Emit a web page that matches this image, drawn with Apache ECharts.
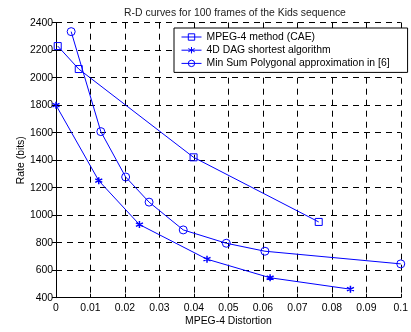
<!DOCTYPE html>
<html><head><meta charset="utf-8">
<script src="https://cdn.jsdelivr.net/npm/echarts@6/dist/echarts.min.js"></script>
<style>html,body{margin:0;padding:0;background:#fff}#c{width:411px;height:332px}</style>
</head><body><div id="c"></div>
<script>
const titleText = 'R-D curves for 100 frames of the Kids sequence';
const xName = 'MPEG-4 Distortion';
const yName = 'Rate (bits)';
const seriesNames = ['MPEG-4 method (CAE)', '4D DAG shortest algorithm', 'Min Sum Polygonal approximation in [6]'];
const mpeg4X = [0.0005, 0.0066, 0.0399, 0.0762];
const mpeg4Y = [2230, 2063, 1421, 951];
const dagX = [0.0000, 0.0124, 0.0242, 0.0438, 0.0621, 0.0854];
const dagY = [1800, 1251, 932, 680, 545, 462];
const minSumX = [0.0044, 0.0130, 0.0202, 0.0270, 0.0369, 0.0494, 0.0606, 0.1000];
const minSumY = [2335, 1608, 1278, 1095, 893, 796, 738, 646];

const zip = (xs, ys) => xs.map((x, i) => [x, ys[i]]);
const blue = '#0000ff';
const font = 'Liberation Sans, Arial, sans-serif';
const fs = 10.4;
const star = 'path://M0,-5L0,5M-4.33,-2.5L4.33,2.5M-4.33,2.5L4.33,-2.5M-1,0L1,0';
const dash = [6, 5];

const chart = echarts.init(document.getElementById('c'), null, {renderer: 'canvas'});
const lineBase = {
  type: 'line', showAllSymbol: true, animation: false,
  lineStyle: {color: blue, width: 1},
  itemStyle: {color: 'rgba(0,0,0,0)', borderColor: blue, borderWidth: 1},
  emphasis: {disabled: true}
};
chart.setOption({
  animation: false,
  title: {text: titleText, left: 230, top: 3, textAlign: 'center',
    textStyle: {fontFamily: font, fontSize: fs, fontWeight: 'normal', color: '#222'}},
  grid: {left: 56, right: 4.5, top: 22.7, bottom: 34.3, show: false},
  legend: {
    orient: 'vertical', left: 174, top: 28,
    backgroundColor: '#fff', borderColor: '#000', borderWidth: 1, borderRadius: 0,
    padding: [4, 18, 4, 7], itemGap: 3.2, itemWidth: 20, itemHeight: 8,
    lineStyle: {width: 1},
    itemStyle: {borderWidth: 1},
    textStyle: {fontFamily: font, fontSize: fs, color: '#000', padding: [0, 0, 0, 0]},
    data: seriesNames
  },
  xAxis: [{
    type: 'value', min: 0, max: 0.1, interval: 0.01,
    name: xName, nameLocation: 'middle', nameGap: 18, nameMoveOverlap: false,
    nameTextStyle: {fontFamily: font, fontSize: fs, color: '#000'},
    axisLine: {show: true, lineStyle: {color: '#000', width: 1}},
    axisTick: {show: true, inside: true, length: 4, lineStyle: {color: '#000'}},
    axisLabel: {fontFamily: font, fontSize: fs, color: '#000', margin: 5,
      formatter: v => String(+v.toFixed(2))},
    splitLine: {show: true, lineStyle: {color: '#000', type: dash, width: 1}}
  }, {
    type: 'value', min: 0, max: 0.1, interval: 0.01, position: 'top',
    axisLine: {show: false}, axisLabel: {show: false}, splitLine: {show: false},
    axisTick: {show: true, inside: true, length: 4, lineStyle: {color: '#000'}}
  }],
  yAxis: [{
    type: 'value', min: 400, max: 2400, interval: 200,
    name: yName, nameLocation: 'middle', nameGap: 30, nameRotate: 90, nameMoveOverlap: false,
    nameTextStyle: {fontFamily: font, fontSize: fs, color: '#000'},
    axisLine: {show: true, lineStyle: {color: '#000', width: 1}},
    axisTick: {show: true, inside: true, length: 4, lineStyle: {color: '#000'}},
    axisLabel: {fontFamily: font, fontSize: fs, color: '#000', margin: 3,
      formatter: v => String(v)},
    splitLine: {show: true, lineStyle: {color: '#000', type: dash, width: 1}}
  }, {
    type: 'value', min: 400, max: 2400, interval: 200, position: 'right',
    axisLine: {show: false}, axisLabel: {show: false}, splitLine: {show: false},
    axisTick: {show: true, inside: true, length: 4, lineStyle: {color: '#000'}}
  }],
  series: [
    Object.assign({}, lineBase, {name: seriesNames[0], data: zip(mpeg4X, mpeg4Y),
      symbol: 'rect', symbolSize: 7}),
    Object.assign({}, lineBase, {name: seriesNames[1], data: zip(dagX, dagY),
      symbol: star, symbolSize: 7, itemStyle: {color: blue, borderColor: blue, borderWidth: 1.5}}),
    Object.assign({}, lineBase, {name: seriesNames[2], data: zip(minSumX, minSumY),
      symbol: 'circle', symbolSize: 8})
  ]
});
</script>
</body></html>
